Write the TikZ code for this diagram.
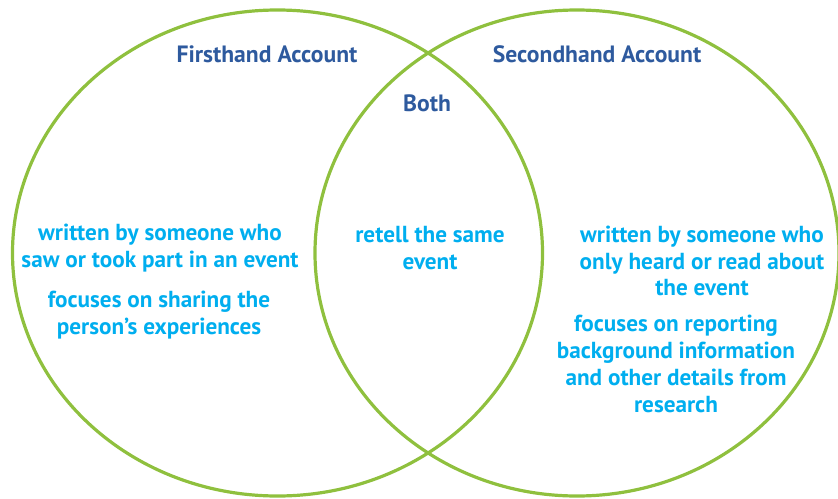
\documentclass[tikz,border=0pt]{standalone}
\usepackage{fontspec}
\setmainfont{PT Sans}
\definecolor{ring}{RGB}{143,192,62}
\definecolor{titleblue}{RGB}{46,90,158}
\definecolor{bodycyan}{RGB}{0,174,239}
\begin{document}
\begin{tikzpicture}[x=1pt,y=-1pt,
  ringline/.style={draw=ring,line width=3.2pt},
  title/.style={text=titleblue,font=\fontsize{23.6}{26}\selectfont\bfseries,inner sep=0pt},
  body/.style={text=bodycyan,font=\fontsize{23.2}{26.8}\selectfont\bfseries,align=center,inner sep=0pt}]
\useasboundingbox (0,0) rectangle (838,498);
\path[ringline] (277.5,253) ellipse [x radius=265pt, y radius=243pt];
\path[ringline] (577,253) ellipse [x radius=262pt, y radius=243pt];
\node[title] (t1) at (267,54) {Firsthand Account};
\node[title] (t2) at (597,54) {Secondhand Account};
\node[title] (t3) at (427,103) {Both};
\node[body] (l1) at (160,248) {written by someone who\\saw or took part in an event};
\node[body] (l2) at (159,315) {focuses on sharing the\\person’s experiences};
\node[body] (m1) at (430,248) {retell the same\\event};
\node[body] (r1) at (702,261) {written by someone who\\only heard or read about\\the event};
\node[body] (r2) at (676,364) {focuses on reporting\\background information\\and other details from\\research};
\end{tikzpicture}
\end{document}
